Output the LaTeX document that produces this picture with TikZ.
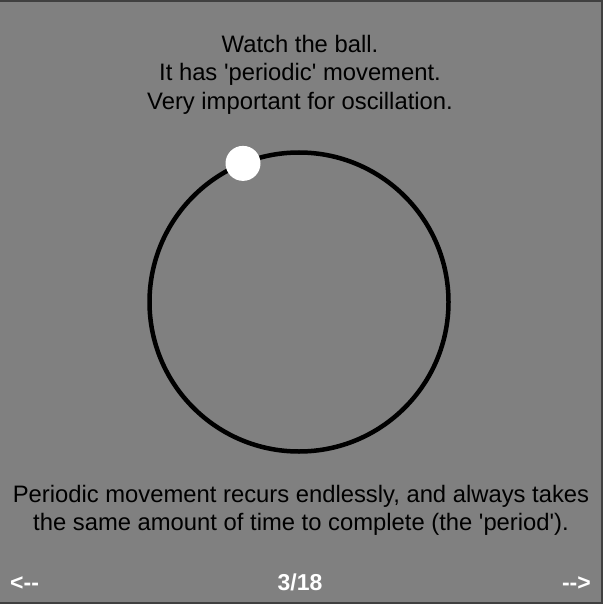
\documentclass[tikz,border=0pt]{standalone}
\usepackage{fontspec}
\setmainfont{Liberation Sans}
\usetikzlibrary{positioning}

\begin{document}
\begin{tikzpicture}[x=1pt,y=-1pt,font=\fontsize{23.8}{28.5}\selectfont]
  \def\W{603}
  \def\H{604}
  \def\R{149.5}   % radius of the track
  \def\q{\textquotesingle}

  % background and frame
  \fill[black!50] (0,0) rectangle (\W,\H);
  \useasboundingbox (0,0) rectangle (\W,\H);
  \draw[black!75,line width=2.5pt] (0,1) -- (\W-1,1) -- (\W-1,\H-1) -- (0,\H-1);

  % heading
  \node[anchor=north,align=center,inner sep=0pt] (head) at (300,35)
    {Watch the ball.\\It has \q periodic\q{} movement.\\Very important for oscillation.};

  % track and ball
  \coordinate (ctr) at (299,302);
  \draw[line width=4.5pt] (ctr) circle[radius=\R];
  \node[circle,fill=white,minimum size=35pt,inner sep=0pt] (ball) at ([shift={(-112:\R)}]ctr) {};

  % caption
  \node[anchor=north,align=center,inner sep=0pt] (note) at (301,485)
    {Periodic movement recurs endlessly, and always takes\\the same amount of time to complete (the \q period\q).};

  % navigation
  \begin{scope}[every node/.style={text=white,font=\fontsize{23}{27}\selectfont\bfseries,inner sep=0pt}]
    \node[anchor=base west] (prev) at (10,590) {<-{}-};
    \node[anchor=base] (page) at (300,590) {3/18};
    \node[anchor=base east] (next) at (591,590) {-{}->};
  \end{scope}
\end{tikzpicture}
\end{document}
